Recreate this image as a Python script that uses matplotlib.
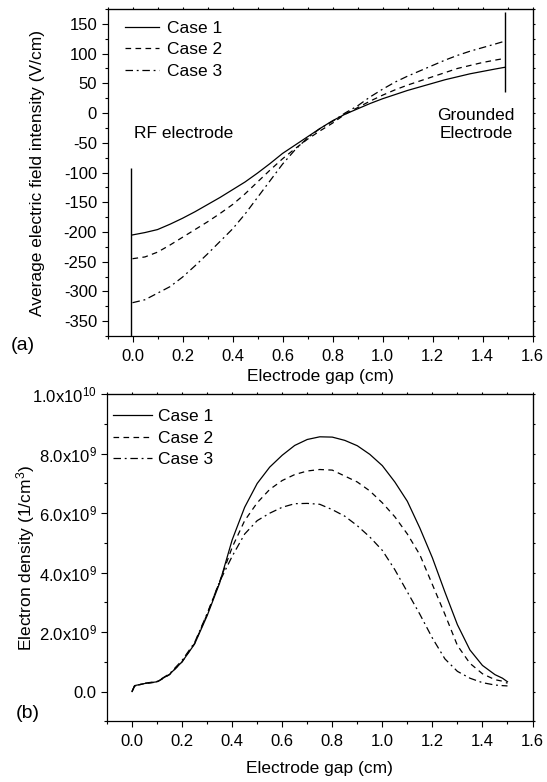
import numpy as np
import matplotlib
matplotlib.use('Agg')
import matplotlib.pyplot as plt
from matplotlib.ticker import MultipleLocator

plt.rcParams['font.family'] = ['Liberation Sans', 'DejaVu Sans']
plt.rcParams['mathtext.fontset'] = 'custom'
plt.rcParams['mathtext.rm'] = 'Liberation Sans'
plt.rcParams['mathtext.default'] = 'regular'
plt.rcParams['axes.unicode_minus'] = False

# (a) average electric field intensity (V/cm) vs electrode gap (cm)
gap_a = [0.00, 0.05, 0.10, 0.15, 0.20, 0.25, 0.30, 0.35, 0.40, 0.45, 0.50,
         0.55, 0.60, 0.65, 0.70, 0.75, 0.80, 0.85, 0.90, 0.95, 1.00, 1.05,
         1.10, 1.15, 1.20, 1.25, 1.30, 1.35, 1.40, 1.45, 1.49]
field_case1 = [-205, -201, -196, -187, -177, -166, -154, -142, -129, -116, -101,
               -85, -68, -54, -40, -26, -13, -2, 7, 16, 24, 31,
               38, 44, 50, 56, 61, 66, 70, 74, 77]
field_case2 = [-245, -242, -234, -222, -209, -196, -183, -169, -154, -136, -116,
               -96, -77, -60, -44, -30, -17, -2, 9, 20, 30, 39,
               47, 54, 61, 68, 75, 80, 85, 89, 92]
field_case3 = [-319, -314, -303, -292, -276, -257, -237, -216, -195, -170, -142,
               -114, -86, -62, -42, -26, -14, 0, 12, 27, 40, 52,
               62, 71, 80, 89, 97, 104, 110, 116, 121]

# (b) electron density (units of 1e9 1/cm^3) vs electrode gap (cm)
gap_b = [0.00, 0.01, 0.05, 0.10, 0.15, 0.20, 0.25, 0.30, 0.35, 0.40, 0.45,
         0.50, 0.55, 0.60, 0.65, 0.70, 0.75, 0.80, 0.85, 0.90, 0.95, 1.00,
         1.05, 1.10, 1.15, 1.20, 1.25, 1.30, 1.35, 1.40, 1.45, 1.48, 1.50]
dens_case1 = [0.0, 0.20, 0.27, 0.33, 0.58, 1.00, 1.60, 2.55, 3.65, 5.10, 6.20,
              7.00, 7.55, 7.95, 8.28, 8.48, 8.57, 8.56, 8.45, 8.27, 7.98, 7.60,
              7.05, 6.40, 5.50, 4.50, 3.35, 2.25, 1.40, 0.88, 0.57, 0.45, 0.33]
dens_case2 = [0.0, 0.19, 0.27, 0.32, 0.57, 1.00, 1.62, 2.60, 3.70, 4.85, 5.75,
              6.35, 6.80, 7.10, 7.30, 7.42, 7.47, 7.45, 7.25, 7.05, 6.75, 6.35,
              5.88, 5.30, 4.60, 3.60, 2.60, 1.55, 0.95, 0.60, 0.40, 0.35, 0.28]
dens_case3 = [0.0, 0.18, 0.28, 0.34, 0.60, 1.05, 1.65, 2.62, 3.70, 4.55, 5.30,
              5.75, 6.00, 6.20, 6.32, 6.33, 6.30, 6.12, 5.90, 5.58, 5.20, 4.75,
              4.10, 3.35, 2.60, 1.80, 1.10, 0.68, 0.45, 0.30, 0.22, 0.20, 0.19]
DENS_UNIT = 1e9

case_labels = ['Case 1', 'Case 2', 'Case 3']
density_ticks = [0, 2e9, 4e9, 6e9, 8e9, 1e10]
density_tick_labels = ['0.0', '2.0x10$^{9}$', '4.0x10$^{9}$', '6.0x10$^{9}$',
                       '8.0x10$^{9}$', '1.0x10$^{10}$']

styles = ['-', (0, (4.5, 3.5)), (0, (6, 3, 1.5, 3))]
lw = 0.9
fs = 12.5

fig = plt.figure(figsize=(5.47, 7.82), dpi=100)
ax1 = fig.add_axes([107.5 / 547, 1 - 336 / 782, 425 / 547, 327 / 782])
ax2 = fig.add_axes([107.0 / 547, 1 - 721.3 / 782, 425.5 / 547, 327 / 782])

# Panel (a)
for vals, ls, lab in zip([field_case1, field_case2, field_case3], styles, case_labels):
    ax1.plot(gap_a, vals, color='black', lw=lw, linestyle=ls, label=lab)
ax1.vlines(-0.008, -375, -93, color='black', lw=1.0)
ax1.vlines(1.49, 36, 170, color='black', lw=1.0)
ax1.text(0.005, -35, 'RF electrode', fontsize=fs, ha='left', va='center')
ax1.text(1.374, -19, 'Grounded\nElectrode', fontsize=fs, ha='center', va='center',
         multialignment='center', linespacing=1.3)
ax1.set_ylim(-375, 175)
ax1.yaxis.set_major_locator(MultipleLocator(50))
ax1.yaxis.set_minor_locator(MultipleLocator(25))
ax1.set_ylabel('Average electric field intensity (V/cm)', fontsize=fs)
ax1.yaxis.set_label_coords(-0.147, 0.5)
ax1.legend(loc='upper left', bbox_to_anchor=(0.04, 0.963), frameon=False,
           handlelength=2.0, handletextpad=0.45, labelspacing=0.35,
           borderpad=0, borderaxespad=0, fontsize=fs)

# Panel (b)
for vals, ls, lab in zip([dens_case1, dens_case2, dens_case3], styles, case_labels):
    ax2.plot(gap_b, np.array(vals) * DENS_UNIT, color='black', lw=lw, linestyle=ls, label=lab)
ax2.set_ylim(-1e9, 1e10)
ax2.set_yticks(density_ticks, density_tick_labels)
ax2.yaxis.set_minor_locator(MultipleLocator(1e9))
ax2.set_ylabel('Electron density (1/cm$^{3}$)', fontsize=fs)
ax2.yaxis.set_label_coords(-0.165, 0.5)
ax2.legend(loc='upper left', bbox_to_anchor=(0.013, 0.956), frameon=False,
           handlelength=2.3, handletextpad=0.3, labelspacing=0.38,
           borderpad=0, borderaxespad=0, fontsize=fs)

for ax, pad in [(ax1, 4), (ax2, 9)]:
    ax.set_xlim(-0.1, 1.6)
    ax.xaxis.set_major_locator(MultipleLocator(0.2))
    ax.xaxis.set_minor_locator(MultipleLocator(0.1))
    ax.set_xlabel('Electrode gap (cm)', fontsize=fs, labelpad=pad)
    ax.tick_params(which='both', direction='out', labelsize=12, width=0.8)
    ax.tick_params(which='major', length=4)
    ax.tick_params(which='minor', length=2.5)
    ax.tick_params(axis='x', pad=5)
    for sp in ax.spines.values():
        sp.set_linewidth(0.9)
    # short mirrored ticks on top and right
    top = ax.secondary_xaxis('top')
    top.xaxis.set_major_locator(MultipleLocator(0.2))
    top.xaxis.set_minor_locator(MultipleLocator(0.1))
    top.tick_params(which='both', labeltop=False, length=1.5, width=0.8)
    right = ax.secondary_yaxis('right')
    right.set_yticks(ax.get_yticks())
    right.yaxis.set_minor_locator(ax.yaxis.get_minor_locator())
    right.tick_params(which='both', labelright=False, length=1.5, width=0.8)

fig.text(23 / 547, 1 - 346 / 782, '(a)', fontsize=14, ha='center', va='center')
fig.text(28 / 547, 1 - 713 / 782, '(b)', fontsize=14, ha='center', va='center')

fig.savefig('out.png', dpi=100)
